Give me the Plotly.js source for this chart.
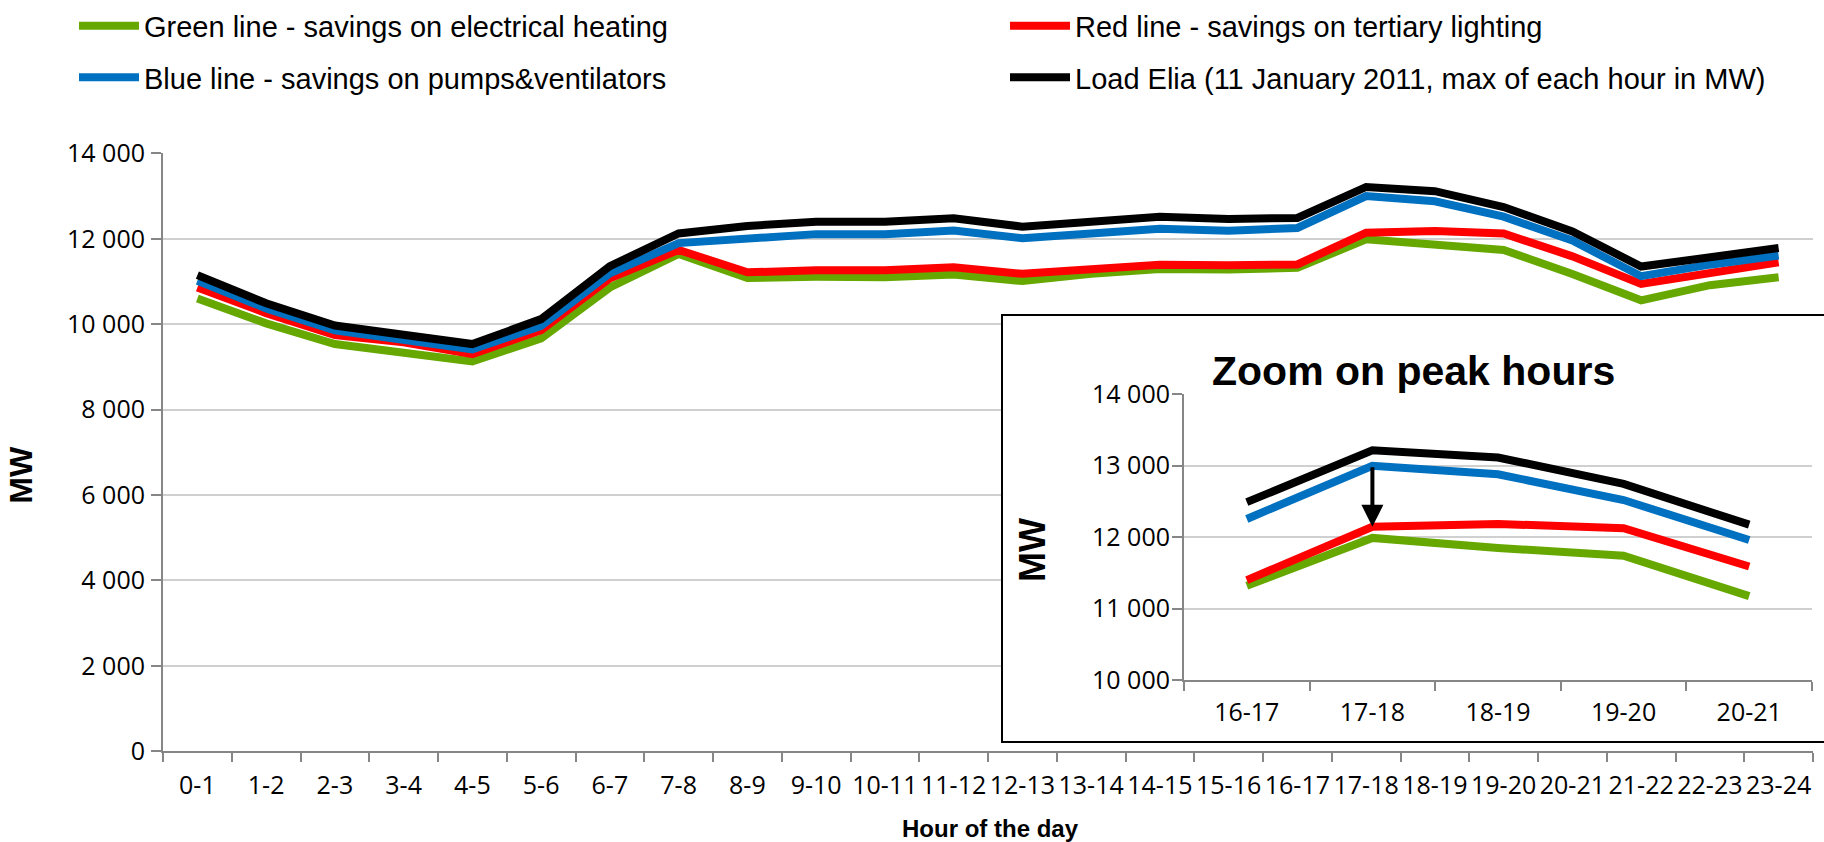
<!DOCTYPE html>
<html>
<head>
<meta charset="utf-8">
<script src="https://cdn.plot.ly/plotly-3.0.1.min.js"></script>
<style>
  html, body { margin: 0; padding: 0; background: #ffffff; }
  #chart { width: 1824px; height: 842px; }
</style>
</head>
<body>
<div id="chart"></div>
<script>
// ---- data ----
const hours = ['0-1','1-2','2-3','3-4','4-5','5-6','6-7','7-8','8-9','9-10','10-11','11-12',
               '12-13','13-14','14-15','15-16','16-17','17-18','18-19','19-20','20-21','21-22','22-23','23-24'];

const heatingSavings  = [10600, 10020, 9535, 9340, 9130, 9665, 10860, 11645, 11085, 11110, 11100, 11165,
                         11010, 11180, 11295, 11280, 11320, 11990, 11850, 11740, 11175, 10560, 10915, 11100];
const lightingSavings = [10860, 10260, 9745, 9575, 9300, 9860, 11075, 11740, 11215, 11265, 11265, 11335,
                         11180, 11290, 11395, 11380, 11400, 12145, 12185, 12125, 11590, 10945, 11200, 11450];
const pumpsSavings    = [11015, 10370, 9855, 9650, 9410, 9960, 11190, 11900, 11995, 12110, 12110, 12195,
                         12015, 12130, 12235, 12190, 12255, 13000, 12880, 12520, 11960, 11125, 11395, 11610];
const loadElia        = [11150, 10490, 9970, 9770, 9535, 10120, 11360, 12125, 12300, 12400, 12400, 12480,
                         12285, 12400, 12515, 12465, 12490, 13215, 13115, 12745, 12175, 11350, 11565, 11785];

const seriesNames = ['Green line - savings on electrical heating',
                     'Red line - savings on tertiary lighting',
                     'Blue line - savings on pumps&amp;ventilators',
                     'Load Elia (11 January 2011, max of each hour in MW)'];
const seriesColors = ['#66a800', '#ff0000', '#0070c0', '#000000'];
const seriesValues = [heatingSavings, lightingSavings, pumpsSavings, loadElia];
const seriesLegend = ['legend', 'legend2', 'legend3', 'legend4'];

// zoomed peak window
const peakStart = 16, peakEnd = 21;
const peakHours = hours.slice(peakStart, peakEnd);
const arrowHour = '17-18';

// ---- figure geometry ----
const W = 1824, H = 842;
const px = v => v / W;
const py = v => 1 - v / H;

const legendFont = {family: 'Liberation Sans, Arial, sans-serif', size: 29, color: '#000'};

const traces = [];
seriesValues.forEach((vals, i) => {
  traces.push({
    type: 'scatter', mode: 'lines', x: hours, y: vals, name: seriesNames[i],
    legend: seriesLegend[i], line: {color: seriesColors[i], width: 8},
    xaxis: 'x', yaxis: 'y', hoverinfo: 'x+y+name'
  });
});
// dummy subplot that forms the white framed inset box
traces.push({type: 'scatter', x: [], y: [], xaxis: 'x2', yaxis: 'y2', showlegend: false, hoverinfo: 'skip'});
seriesValues.forEach((vals, i) => {
  traces.push({
    type: 'scatter', mode: 'lines', x: peakHours, y: vals.slice(peakStart, peakEnd),
    name: seriesNames[i], showlegend: false, line: {color: seriesColors[i], width: 8},
    xaxis: 'x3', yaxis: 'y3'
  });
});

const tickFont = {family: 'Open Sans, Liberation Sans, sans-serif', size: 25, color: '#000'};
const xTickFont = {family: 'Open Sans, Liberation Sans, sans-serif', size: 25, color: '#000'};
const axisGray = '#868686';
const gridGray = '#d0d0d0';

const arrowIdx = peakHours.indexOf(arrowHour);
const hIdx = hours.indexOf(arrowHour);

function legendAt(x, y) {
  return {
    x: px(x), xanchor: 'left', y: py(y), yanchor: 'middle', orientation: 'h',
    itemwidth: 60, font: legendFont, bgcolor: 'rgba(0,0,0,0)', borderwidth: 0
  };
}

const layout = {
  width: W, height: H,
  margin: {l: 0, r: 0, t: 0, b: 0, pad: 0},
  paper_bgcolor: '#ffffff', plot_bgcolor: '#ffffff',
  separators: '. ',
  showlegend: true,
  legend: legendAt(74, 20),
  legend2: legendAt(1005, 20),
  legend3: legendAt(74, 72),
  legend4: legendAt(1005, 72),
  xaxis: {
    domain: [px(163), px(1813)], anchor: 'y', type: 'category',
    categoryorder: 'array', categoryarray: hours, range: [-0.5, hours.length - 0.5],
    showline: true, linecolor: axisGray, linewidth: 2,
    ticks: 'outside', ticklen: 9, tickwidth: 2, tickcolor: axisGray, tickson: 'boundaries',
    tickangle: 0, tickfont: xTickFont, ticklabelstandoff: 11,
    showgrid: false, zeroline: false, fixedrange: true
  },
  yaxis: {
    domain: [py(750.5), py(148.5)], anchor: 'x', range: [0, 14000], dtick: 2000, tick0: 0,
    tickformat: ',d',
    showline: true, linecolor: axisGray, linewidth: 2,
    ticks: 'outside', ticklen: 10, tickwidth: 2, tickcolor: axisGray,
    tickfont: tickFont, ticklabelstandoff: 1,
    showgrid: true, gridcolor: gridGray, gridwidth: 2, zeroline: false, fixedrange: true
  },
  xaxis2: {
    domain: [px(1003), 1], anchor: 'y2', range: [0, 1],
    showline: true, mirror: true, linecolor: '#000', linewidth: 2,
    showticklabels: false, ticks: '', showgrid: false, zeroline: false, fixedrange: true
  },
  yaxis2: {
    domain: [py(740), py(312)], anchor: 'x2', range: [0, 1],
    showline: true, mirror: false, linecolor: '#000', linewidth: 2,
    showticklabels: false, ticks: '', showgrid: false, zeroline: false, fixedrange: true
  },
  xaxis3: {
    domain: [px(1184), px(1812)], anchor: 'y3', type: 'category',
    categoryorder: 'array', categoryarray: peakHours, range: [-0.5, peakHours.length - 0.5],
    showline: true, linecolor: axisGray, linewidth: 2,
    ticks: 'outside', ticklen: 9, tickwidth: 2, tickcolor: axisGray, tickson: 'boundaries',
    tickangle: 0, tickfont: xTickFont, ticklabelstandoff: 9,
    showgrid: false, zeroline: false, fixedrange: true
  },
  yaxis3: {
    domain: [py(679), py(391)], anchor: 'x3', range: [10000, 14000], dtick: 1000, tick0: 10000,
    tickformat: ',d',
    showline: true, linecolor: axisGray, linewidth: 2,
    ticks: 'outside', ticklen: 10, tickwidth: 2, tickcolor: axisGray,
    tickfont: {family: 'Open Sans, Liberation Sans, sans-serif', size: 25, color: '#000'},
    ticklabelstandoff: -3,
    showgrid: true, gridcolor: gridGray, gridwidth: 2, zeroline: false, fixedrange: true
  },
  annotations: [
    {text: '<b>MW</b>', xref: 'paper', yref: 'paper', x: px(21), y: py(472), textangle: -90,
     showarrow: false, xanchor: 'center', yanchor: 'middle',
     font: {family: 'Liberation Sans, Arial, sans-serif', size: 32, color: '#000'}},
    {text: '<b>Hour of the day</b>', xref: 'paper', yref: 'paper', x: px(990), y: py(828),
     showarrow: false, xanchor: 'center', yanchor: 'middle',
     font: {family: 'Liberation Sans, Arial, sans-serif', size: 24, color: '#000'}},
    {text: '<b>Zoom on peak hours</b>', xref: 'paper', yref: 'paper', x: px(1413), y: py(368),
     showarrow: false, xanchor: 'center', yanchor: 'middle',
     font: {family: 'Liberation Sans, Arial, sans-serif', size: 41, color: '#000'}},
    {text: '<b>MW</b>', xref: 'paper', yref: 'paper', x: px(1032), y: py(548), textangle: -90,
     showarrow: false, xanchor: 'center', yanchor: 'middle',
     font: {family: 'Liberation Sans, Arial, sans-serif', size: 36, color: '#000'}},
    {text: '', xref: 'x3', yref: 'y3', x: arrowIdx, y: lightingSavings[hIdx],
     axref: 'x3', ayref: 'y3', ax: arrowIdx, ay: pumpsSavings[hIdx],
     showarrow: true, arrowhead: 2, arrowsize: 1.1, arrowwidth: 4, arrowcolor: '#000', standoff: 0}
  ]
};

Plotly.newPlot('chart', traces, layout, {displayModeBar: false, staticPlot: true});
</script>
</body>
</html>
